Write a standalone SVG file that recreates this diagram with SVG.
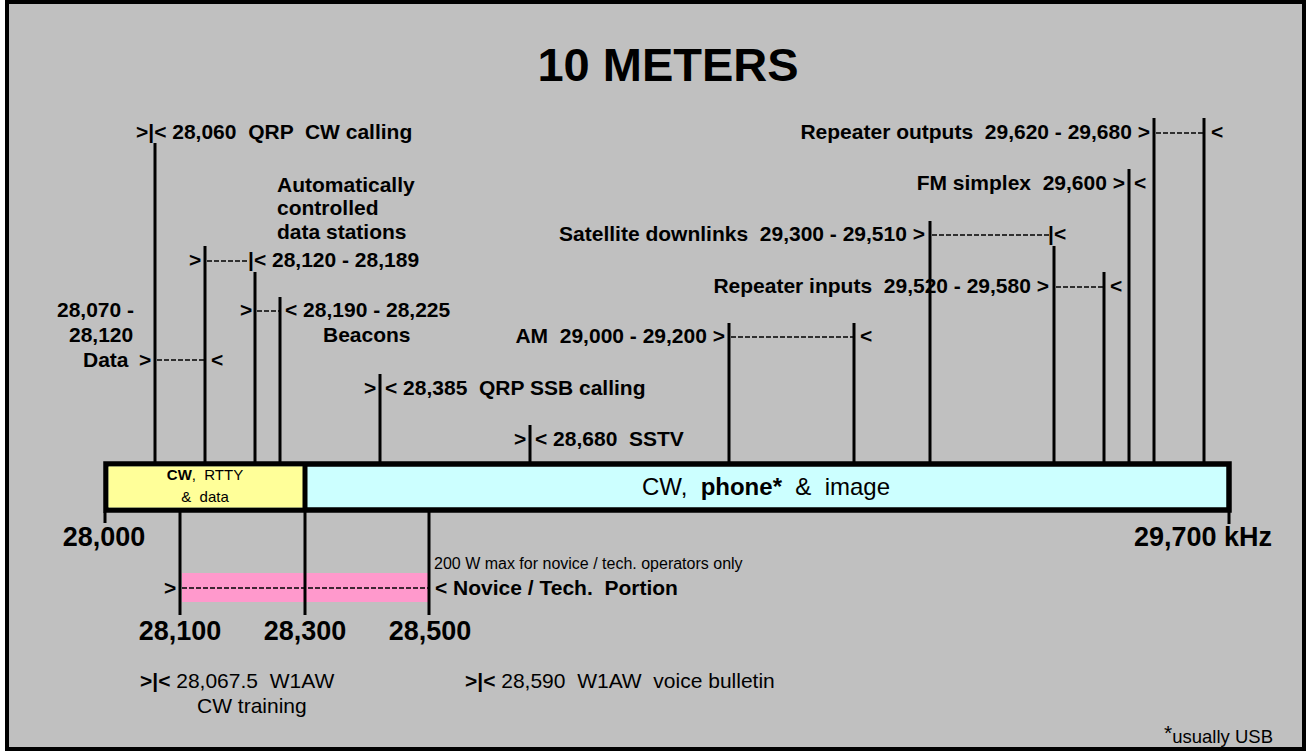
<svg xmlns="http://www.w3.org/2000/svg" width="1306" height="751" viewBox="0 0 1306 751">
<style>
text{font-family:"Liberation Sans",Arial,sans-serif;fill:#000;white-space:pre}
.b{font-weight:bold;font-size:21px}
.r{font-size:21px}
.f{font-weight:bold;font-size:27px}
.ln{stroke:#000;stroke-width:3;fill:none}
.ds{stroke:#000;stroke-width:1.5;stroke-dasharray:5 2;fill:none}
</style>
<rect x="0" y="0" width="1306" height="751" fill="#fff"/>
<rect id="frame" x="7" y="2" width="1297" height="747" fill="#C0C0C0" stroke="#000" stroke-width="4"/>
<text id="title" x="668" y="81" text-anchor="middle" style="font-weight:bold;font-size:47px">10 METERS</text>

<g id="connectors">
  <line class="ln" x1="155" y1="143" x2="155" y2="462"/>
  <line class="ln" x1="205" y1="246" x2="205" y2="462"/>
  <line class="ln" x1="255" y1="272" x2="255" y2="462"/>
  <line class="ln" x1="280" y1="297" x2="280" y2="462"/>
  <line class="ln" x1="380" y1="374" x2="380" y2="462"/>
  <line class="ln" x1="530" y1="425" x2="530" y2="462"/>
  <line class="ln" x1="729" y1="323" x2="729" y2="462"/>
  <line class="ln" x1="854" y1="323" x2="854" y2="462"/>
  <line class="ln" x1="930" y1="221" x2="930" y2="462"/>
  <line class="ln" x1="1054" y1="246" x2="1054" y2="462"/>
  <line class="ln" x1="1104" y1="272" x2="1104" y2="462"/>
  <line class="ln" x1="1129" y1="169" x2="1129" y2="462"/>
  <line class="ln" x1="1154" y1="118" x2="1154" y2="462"/>
  <line class="ln" x1="1204" y1="118" x2="1204" y2="462"/>
  <line class="ds" x1="157" y1="360" x2="204" y2="360"/>
  <line class="ds" x1="207" y1="261" x2="249" y2="261"/>
  <line class="ds" x1="257" y1="311" x2="279" y2="311"/>
  <line class="ds" x1="731" y1="337" x2="853" y2="337"/>
  <line class="ds" x1="932" y1="235" x2="1049" y2="235"/>
  <line class="ds" x1="1056" y1="287" x2="1103" y2="287"/>
  <line class="ds" x1="1156" y1="133" x2="1203" y2="133"/>
  <line class="ln" x1="105" y1="512" x2="105" y2="523"/>
  <line class="ln" x1="1229" y1="512" x2="1229" y2="524"/>
</g>

<g id="novice">
  <rect x="182" y="573" width="246" height="29" fill="#FF99CC"/>
  <line class="ds" x1="182" y1="588" x2="428" y2="588"/>
  <line class="ln" x1="180" y1="512" x2="180" y2="615"/>
  <line class="ln" x1="305" y1="512" x2="305" y2="615"/>
  <line class="ln" x1="429" y1="512" x2="429" y2="615"/>
  <text class="b" x="164" y="595">&gt;</text>
  <text class="b" x="435" y="595">&lt; Novice / Tech.  Portion</text>
  <text x="434" y="569" style="font-size:16px">200 W max for novice / tech. operators only</text>
</g>

<g id="bar">
  <rect x="106" y="464" width="1123" height="46" fill="#CCFFFF" stroke="#000" stroke-width="5.5"/>
  <rect x="108.5" y="466.5" width="196" height="41" fill="#FFFF99"/>
  <line x1="305" y1="464" x2="305" y2="510" stroke="#000" stroke-width="5"/>
  <text x="205" y="480" text-anchor="middle" style="font-size:15px"><tspan font-weight="bold">CW</tspan>,  RTTY</text>
  <text x="205" y="502" text-anchor="middle" style="font-size:15px">&amp;  data</text>
  <text x="766" y="495" text-anchor="middle" style="font-size:24px">CW,  <tspan font-weight="bold">phone*</tspan>  &amp;  image</text>
</g>

<g id="scale-labels">
  <text class="f" x="104" y="546" text-anchor="middle">28,000</text>
  <text class="f" x="1272" y="546" text-anchor="end">29,700 kHz</text>
  <text class="f" x="180" y="640" text-anchor="middle">28,100</text>
  <text class="f" x="305" y="640" text-anchor="middle">28,300</text>
  <text class="f" x="430" y="640" text-anchor="middle">28,500</text>
</g>

<g id="qrp-cw"><text class="b" x="136" y="139">&gt;|&lt; 28,060  QRP  CW calling</text></g>
<g id="auto-data">
  <text class="b" x="277" y="192">Automatically</text>
  <text class="b" x="277" y="215">controlled</text>
  <text class="b" x="277" y="239">data stations</text>
  <text class="b" x="189" y="267">&gt;</text>
  <text class="b" x="248" y="267">|&lt; 28,120 - 28,189</text>
</g>
<g id="beacons">
  <text class="b" x="240" y="317">&gt;</text>
  <text class="b" x="285" y="317">&lt; 28,190 - 28,225</text>
  <text class="b" x="323" y="342">Beacons</text>
</g>
<g id="data">
  <text class="b" x="57" y="317">28,070 -</text>
  <text class="b" x="69" y="342">28,120</text>
  <text class="b" x="83" y="367">Data</text>
  <text class="b" x="139" y="367">&gt;</text>
  <text class="b" x="211" y="367">&lt;</text>
</g>
<g id="qrp-ssb">
  <text class="b" x="364" y="395">&gt;</text>
  <text class="b" x="385" y="395">&lt; 28,385  QRP SSB calling</text>
</g>
<g id="sstv">
  <text class="b" x="514" y="446">&gt;</text>
  <text class="b" x="535" y="446">&lt; 28,680  SSTV</text>
</g>
<g id="am">
  <text class="b" x="725" y="343" text-anchor="end">AM  29,000 - 29,200 &gt;</text>
  <text class="b" x="860" y="343">&lt;</text>
</g>
<g id="satellite">
  <text class="b" x="925" y="241" text-anchor="end">Satellite downlinks  29,300 - 29,510 &gt;</text>
  <text class="b" x="1048" y="241">|&lt;</text>
</g>
<g id="rep-in">
  <text class="b" x="1049" y="293" text-anchor="end">Repeater inputs  29,520 - 29,580 &gt;</text>
  <text class="b" x="1110" y="293">&lt;</text>
</g>
<g id="fm">
  <text class="b" x="1125" y="190" text-anchor="end">FM simplex  29,600 &gt;</text>
  <text class="b" x="1134" y="190">&lt;</text>
</g>
<g id="rep-out">
  <text class="b" x="1150" y="139" text-anchor="end">Repeater outputs  29,620 - 29,680 &gt;</text>
  <text class="b" x="1211" y="139">&lt;</text>
</g>

<g id="w1aw-cw">
  <text class="r" x="140" y="688"><tspan font-weight="bold">&gt;|&lt;</tspan> 28,067.5  W1AW</text>
  <text class="r" x="197" y="713">CW training</text>
</g>
<g id="w1aw-voice">
  <text class="r" x="465" y="688"><tspan font-weight="bold">&gt;|&lt;</tspan> 28,590  W1AW  voice bulletin</text>
</g>
<g id="footnote">
  <text x="1273" y="743" text-anchor="end" style="font-size:18.5px"><tspan style="font-size:21px" dy="-3">*</tspan><tspan dy="3">usually USB</tspan></text>
</g>
</svg>
